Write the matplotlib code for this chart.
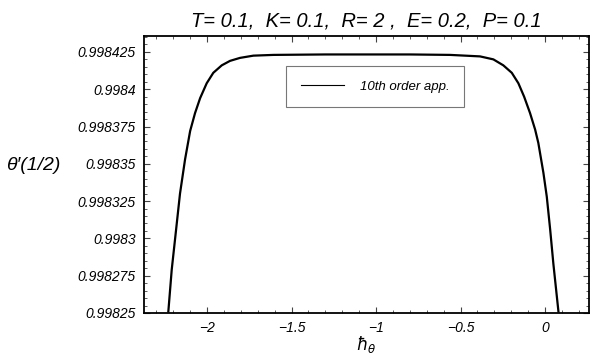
import numpy as np
import matplotlib
matplotlib.use("Agg")
import matplotlib.pyplot as plt
from matplotlib.ticker import MultipleLocator

# values (hbar_theta, theta'(1/2))
h = [-2.229, -2.209, -2.183, -2.160, -2.130, -2.100, -2.071, -2.041, -2.002,
     -1.963, -1.913, -1.864, -1.805, -1.726, -1.607, -1.3, -1.0, -0.8,
     -0.562, -0.385, -0.306, -0.247, -0.197, -0.158, -0.124, -0.089, -0.059,
     -0.040, -0.010, 0.010, 0.030, 0.049, 0.079]
theta = [0.998251, 0.998279, 0.998306, 0.998330, 0.998353, 0.998372, 0.998384,
         0.998394, 0.998404, 0.998411, 0.998416, 0.998419, 0.998421, 0.9984225,
         0.998423, 0.9984233, 0.9984233, 0.9984233,
         0.998423, 0.998422, 0.998420, 0.998416, 0.998411, 0.998404, 0.998395,
         0.998384, 0.998373, 0.998364, 0.998344, 0.998328, 0.998306, 0.998283,
         0.998251]
yticks = [0.99825, 0.998275, 0.9983, 0.998325, 0.99835, 0.998375, 0.9984, 0.998425]
xticks = [-2, -1.5, -1, -0.5, 0]

plt.rcParams['font.family'] = ['Liberation Sans', 'DejaVu Sans']

fig = plt.figure(figsize=(5.98, 3.56), dpi=100)
ax = fig.add_axes([0.2408, 0.1208, 0.7442, 0.7782])
ax.plot(h, theta, color="black", lw=1.6, label="10th order app.")
ax.set_xlim(-2.373, 0.26)
ax.set_ylim(0.99825, 0.9984357)

ax.set_xticks(xticks)
ax.set_xticklabels(["\u22122", "\u22121.5", "\u22121", "\u22120.5", "0"])
ax.set_yticks(yticks)
ax.set_yticklabels([("%.6f" % v).rstrip("0") for v in yticks])
ax.xaxis.set_minor_locator(MultipleLocator(0.1))
ax.yaxis.set_minor_locator(MultipleLocator(0.000005))
ax.tick_params(which="both", direction="in", top=True, right=True,
               labelsize=10, pad=6, color="#444444")
ax.tick_params(which="major", length=4, width=0.8)
ax.tick_params(which="minor", length=2.5, width=0.6)
for lab in ax.get_xticklabels() + ax.get_yticklabels():
    lab.set_style("italic")
for s in ax.spines.values():
    s.set_linewidth(1.3)

ax.set_title("T= 0.1,  K= 0.1,  R= 2 ,  E= 0.2,  P= 0.1", fontsize=14.5,
             style="italic", pad=7)
ax.set_xlabel(r"$\hbar_\theta$", fontsize=12, labelpad=-1)
fig.text(0.01, (356 - 166) / 356, "\u03b8\u2032(1/2)", fontsize=14,
         style="italic", va="center", ha="left")

leg = ax.legend(loc="upper left", bbox_to_anchor=(286 / 598, 1 - 66 / 356),
                bbox_transform=fig.transFigure, fancybox=False,
                edgecolor="#777777", framealpha=1, handlelength=3.3,
                borderpad=1.1, handletextpad=1.2, borderaxespad=0,
                prop={"style": "italic", "size": 9.5})
leg.get_lines()[0].set_linewidth(0.8)
leg.get_frame().set_linewidth(0.8)

fig.savefig("out.png", dpi=100)
